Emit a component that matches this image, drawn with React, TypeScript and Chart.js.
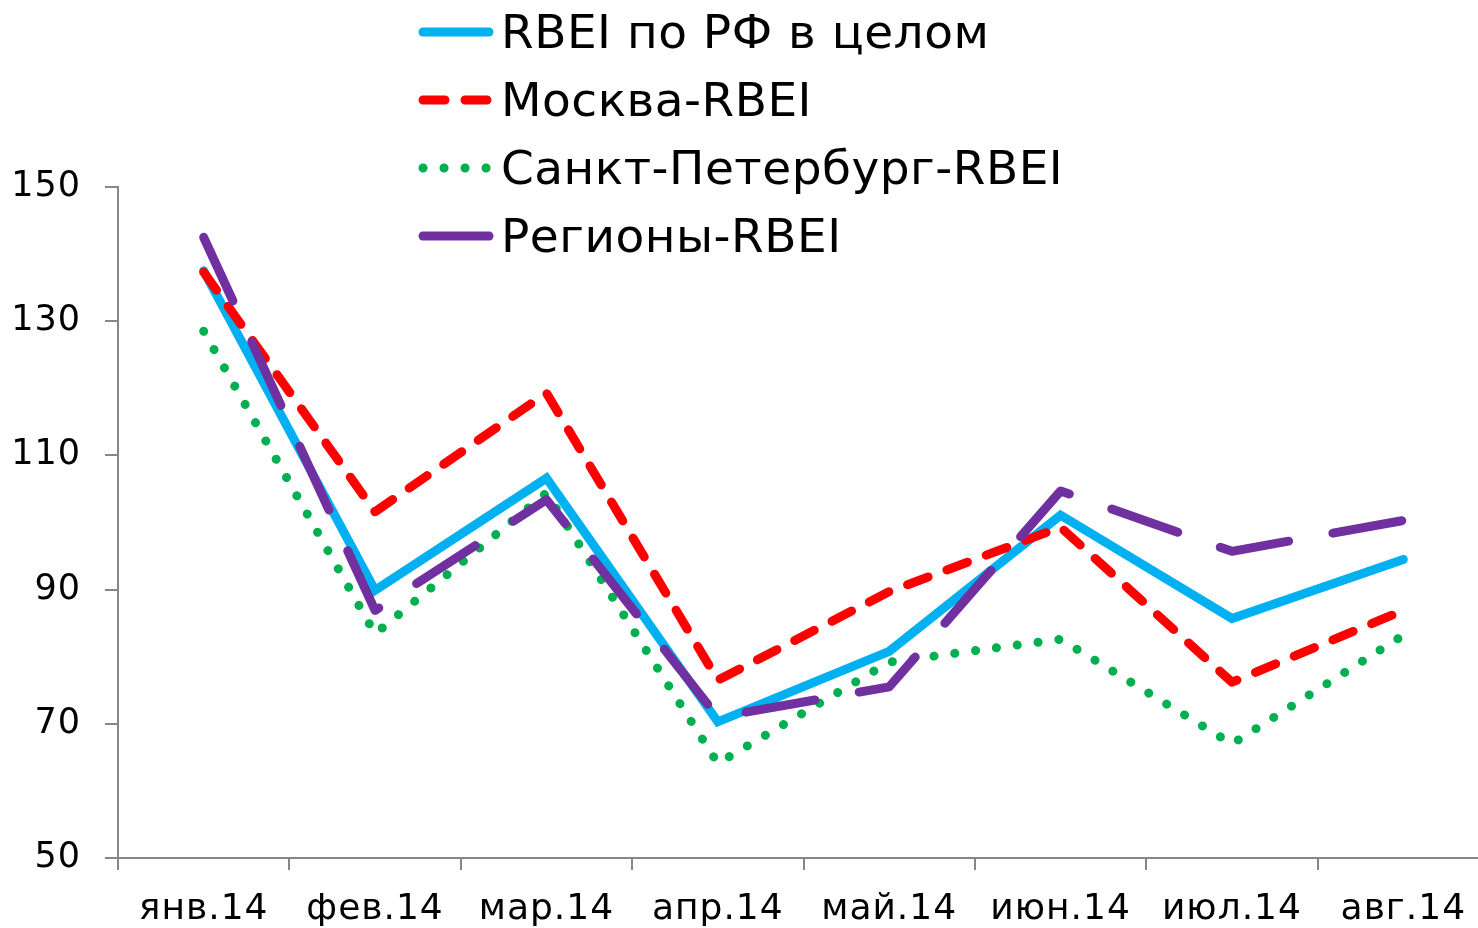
import React, { useEffect, useRef } from 'react';
import { Chart, registerables } from 'chart.js';

Chart.register(...registerables);

const categories = ['янв.14', 'фев.14', 'мар.14', 'апр.14', 'май.14', 'июн.14', 'июл.14', 'авг.14'];
const seriesNames = ['RBEI по РФ в целом', 'Москва-RBEI', 'Санкт-Петербург-RBEI', 'Регионы-RBEI'];
const rfValues = [137.5, 89.9, 106.6, 70.3, 80.8, 101.1, 85.7, 94.5];
const moscowValues = [137.3, 101.6, 119.3, 76.5, 89.7, 99.3, 76.2, 86.9];
const spbValues = [128.5, 83.4, 104.4, 64.1, 79.2, 82.6, 67.0, 83.2];
const regionsValues = [142.5, 86.9, 103.4, 71.0, 75.5, 104.7, 95.7, 100.3];
const yTicks = [50, 70, 90, 110, 130, 150];

const FONT = "'DejaVu Sans', Verdana, sans-serif";
const AXIS_COLOR = '#878787';

const spacingPlugin = {
  id: 'letterSpacing',
  beforeDraw(chart: any) {
    chart.ctx.letterSpacing = '1px';
  },
};

const legendPlugin = {
  id: 'customLegend',
  afterDraw(chart: any) {
    const ctx = chart.ctx;
    const rows = [31, 99, 167, 235];
    chart.data.datasets.forEach((ds: any, i: number) => {
      const y = rows[i];
      ctx.save();
      ctx.strokeStyle = ds.borderColor;
      ctx.lineWidth = ds.borderWidth;
      ctx.lineCap = 'round';
      ctx.setLineDash(ds.borderDash || []);
      ctx.beginPath();
      ctx.moveTo(423, y + 1);
      ctx.lineTo(489, y + 1);
      ctx.stroke();
      ctx.setLineDash([]);
      ctx.fillStyle = '#000000';
      ctx.font = `47px ${FONT}`;
      ctx.letterSpacing = '0.5px';
      ctx.textBaseline = 'alphabetic';
      ctx.textAlign = 'left';
      ctx.fillText(ds.label, 501, y + 17);
      ctx.restore();
    });
  },
};

export default function App() {
  const canvasRef = useRef<HTMLCanvasElement | null>(null);

  useEffect(() => {
    if (!canvasRef.current) return;
    const common = {
      borderWidth: 9,
      pointRadius: 0,
      pointHoverRadius: 0,
      fill: false,
      tension: 0,
      borderCapStyle: 'round' as const,
      borderJoinStyle: 'round' as const,
    };
    const chart = new Chart(canvasRef.current, {
      type: 'line',
      data: {
        labels: categories,
        datasets: [
          { ...common, label: seriesNames[0], data: rfValues, borderColor: '#00B0F0', borderDash: [], order: 3, borderJoinStyle: 'miter' as const },
          { ...common, label: seriesNames[1], data: moscowValues, borderColor: '#FF0000', borderDash: [22, 20], order: 2 },
          { ...common, label: seriesNames[2], data: spbValues, borderColor: '#00B050', borderDash: [0.1, 20.9], order: 1 },
          { ...common, label: seriesNames[3], data: regionsValues, borderColor: '#7030A0', borderDash: [70, 45], order: 0 },
        ],
      },
      options: {
        animation: false,
        responsive: true,
        maintainAspectRatio: false,
        layout: { padding: { top: 187, right: 0, left: 0, bottom: 0 } },
        plugins: {
          legend: { display: false },
          tooltip: { enabled: false },
        },
        scales: {
          x: {
            offset: true,
            grid: {
              offset: true,
              drawOnChartArea: false,
              drawTicks: true,
              tickLength: 12,
              color: AXIS_COLOR,
              lineWidth: 2,
            },
            border: { color: AXIS_COLOR, width: 2 },
            ticks: {
              color: '#000000',
              font: { family: FONT, size: 36 },
              padding: 18,
              maxRotation: 0,
              autoSkip: false,
            },
            afterFit(scale: any) {
              scale.height = 70;
            },
          },
          y: {
            min: 50,
            max: 150,
            afterBuildTicks(scale: any) {
              scale.ticks = yTicks.map((v) => ({ value: v }));
            },
            grid: {
              drawOnChartArea: false,
              drawTicks: true,
              tickLength: 13,
              color: AXIS_COLOR,
              lineWidth: 2,
            },
            border: { color: AXIS_COLOR, width: 2 },
            ticks: {
              color: '#000000',
              font: { family: FONT, size: 35 },
              padding: 24,
            },
            afterFit(scale: any) {
              scale.width = 118;
            },
          },
        },
      },
      plugins: [spacingPlugin, legendPlugin],
    });
    return () => chart.destroy();
  }, []);

  return (
    <div style={{ position: 'absolute', left: 0, top: 0, width: 1478, height: 928, overflow: 'hidden', background: '#ffffff' }}>
      <div style={{ position: 'relative', width: 1489, height: 928 }}>
        <canvas ref={canvasRef} />
      </div>
    </div>
  );
}
